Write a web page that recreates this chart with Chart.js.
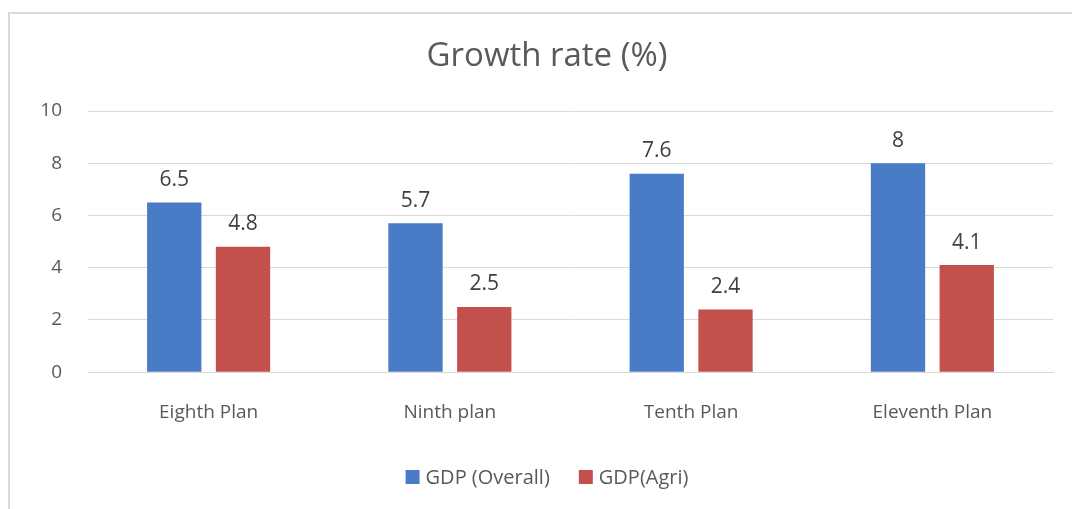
<!DOCTYPE html>
<html>
<head>
<meta charset="utf-8">
<script src="https://cdn.jsdelivr.net/npm/chart.js@4/dist/chart.umd.min.js"></script>
<style>
  html, body { margin: 0; padding: 0; background: #fff; }
  #wrap { position: relative; width: 1072px; height: 509px; }
</style>
</head>
<body>
<div id="wrap"><canvas id="growthChart" width="1072" height="509"></canvas></div>
<script>
// --- data ---
const plans = ['Eighth Plan', 'Ninth plan', 'Tenth Plan', 'Eleventh Plan'];
const gdpOverall = [6.5, 5.7, 7.6, 8];
const gdpAgri = [4.8, 2.5, 2.4, 4.1];
const yTicks = [0, 2, 4, 6, 8, 10];
const chartTitle = 'Growth rate (%)';

const FONT = "'Open Sans', 'Liberation Sans', sans-serif";
// the original frame is cropped on the right, so its centre sits right of the canvas centre
const FRAME_CENTER_X = 547;

// frame (left and top edges only), title and legend
const framePlugin = {
    id: 'frame',
    beforeDraw(chart) {
        const c = chart.ctx;
        c.save();
        c.fillStyle = '#ffffff';
        c.fillRect(0, 0, chart.width, chart.height);
        c.strokeStyle = '#d9d9d9';
        c.lineWidth = 2;
        c.beginPath();
        c.moveTo(9, chart.height);
        c.lineTo(9, 13);
        c.lineTo(chart.width, 13);
        c.stroke();
        c.restore();
    },
    afterDraw(chart) {
        const c = chart.ctx;
        c.save();
        // title
        c.font = "33px " + FONT;
        c.fillStyle = '#595959';
        c.textAlign = 'center';
        c.textBaseline = 'middle';
        c.fillText(chartTitle, FRAME_CENTER_X, 57);

        // legend
        c.font = "20px " + FONT;
        c.textAlign = 'left';
        const box = 14, gapText = 6, gapItem = 29, midY = 477;
        const items = chart.data.datasets.map(ds => ({ text: ds.label, color: ds.backgroundColor, w: c.measureText(ds.label).width }));
        let total = items.reduce((s, it) => s + box + gapText + it.w, 0) + gapItem * (items.length - 1);
        let x = FRAME_CENTER_X - total / 2;
        items.forEach(it => {
            c.fillStyle = it.color;
            c.fillRect(x, midY - box / 2, box, box);
            c.fillStyle = '#595959';
            c.fillText(it.text, x + box + gapText, midY + 1);
            x += box + gapText + it.w + gapItem;
        });
        c.restore();
    }
};

// value labels above each bar
const valueLabels = {
    id: 'valueLabels',
    afterDatasetsDraw(chart) {
        const c = chart.ctx;
        c.save();
        c.font = "21px " + FONT;
        c.fillStyle = '#404040';
        c.textAlign = 'center';
        c.textBaseline = 'bottom';
        chart.data.datasets.forEach((ds, di) => {
            chart.getDatasetMeta(di).data.forEach((bar, i) => {
                c.fillText(String(ds.data[i]), bar.x, bar.y - 12);
            });
        });
        c.restore();
    }
};

new Chart(document.getElementById('growthChart').getContext('2d'), {
    type: 'bar',
    data: {
        labels: plans,
        datasets: [
            { label: 'GDP (Overall)', data: gdpOverall, backgroundColor: '#4a7bc6', barPercentage: 0.79, categoryPercentage: 0.57 },
            { label: 'GDP(Agri)', data: gdpAgri, backgroundColor: '#c4504c', barPercentage: 0.79, categoryPercentage: 0.57 }
        ]
    },
    options: {
        responsive: false,
        animation: false,
        layout: { padding: { left: 20, right: 19, top: 111, bottom: 56 } },
        plugins: {
            title: { display: false },
            legend: { display: false },
            tooltip: { enabled: false }
        },
        scales: {
            x: {
                grid: { display: false, drawTicks: false },
                border: { color: '#d9d9d9', width: 1 },
                ticks: { color: '#595959', font: { family: FONT, size: 19 }, padding: 29 }
            },
            y: {
                min: 0,
                max: 10,
                afterBuildTicks: (scale) => { scale.ticks = yTicks.map(v => ({ value: v })); },
                afterFit: (scale) => { scale.width = 68; },
                grid: { color: '#d9d9d9', drawTicks: false },
                border: { display: false },
                ticks: { color: '#595959', font: { family: FONT, size: 19 }, padding: 26 }
            }
        }
    },
    plugins: [framePlugin, valueLabels]
});
</script>
</body>
</html>
